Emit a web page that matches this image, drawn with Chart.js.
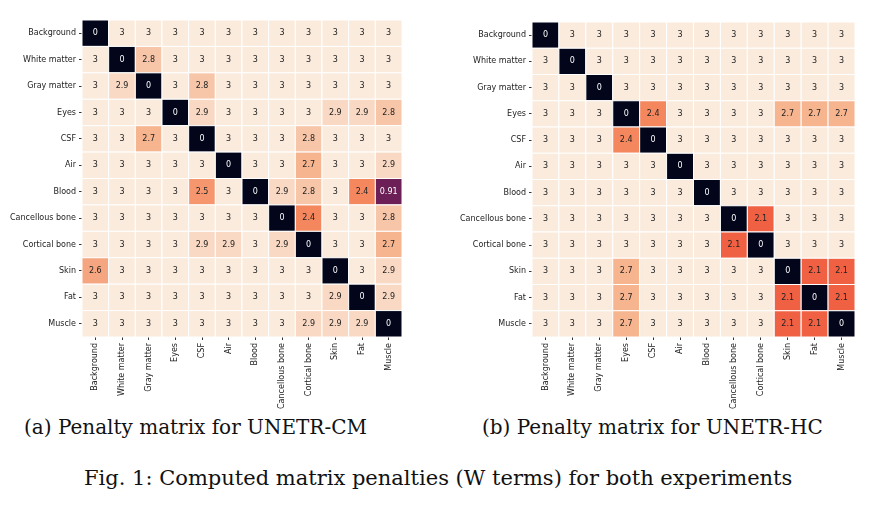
<!DOCTYPE html>
<html>
<head>
<meta charset="utf-8">
<script src="https://cdn.jsdelivr.net/npm/chart.js@4.4.0/dist/chart.umd.min.js"></script>
<style>
  body { margin: 0; background: #fff; width: 883px; height: 513px; position: relative; overflow: hidden; }
  .box { position: absolute; top: 0; width: 420px; height: 410px; }
  .cap { position: absolute; font-family: "DejaVu Serif", serif; font-size: 20px; color: #111; white-space: nowrap; }
</style>
</head>
<body>
<div class="box" style="left:0"><canvas id="chartCM"></canvas></div>
<div class="box" style="left:450px"><canvas id="chartHC"></canvas></div>
<div class="cap" style="left:24px; top:415px">(a) Penalty matrix for UNETR-CM</div>
<div class="cap" style="left:482px; top:415px">(b) Penalty matrix for UNETR-HC</div>
<div class="cap" style="left:84px; top:466px; font-size:21px">Fig. 1: Computed matrix penalties (W terms) for both experiments</div>
<script>
var classes = ["Background", "White matter", "Gray matter", "Eyes", "CSF", "Air", "Blood",
    "Cancellous bone", "Cortical bone", "Skin", "Fat", "Muscle"];

var penaltyCM = [
    [0, 3, 3, 3, 3, 3, 3, 3, 3, 3, 3, 3],
    [3, 0, 2.8, 3, 3, 3, 3, 3, 3, 3, 3, 3],
    [3, 2.9, 0, 3, 2.8, 3, 3, 3, 3, 3, 3, 3],
    [3, 3, 3, 0, 2.9, 3, 3, 3, 3, 2.9, 2.9, 2.8],
    [3, 3, 2.7, 3, 0, 3, 3, 3, 2.8, 3, 3, 3],
    [3, 3, 3, 3, 3, 0, 3, 3, 2.7, 3, 3, 2.9],
    [3, 3, 3, 3, 2.5, 3, 0, 2.9, 2.8, 3, 2.4, 0.91],
    [3, 3, 3, 3, 3, 3, 3, 0, 2.4, 3, 3, 2.8],
    [3, 3, 3, 3, 2.9, 2.9, 3, 2.9, 0, 3, 3, 2.7],
    [2.6, 3, 3, 3, 3, 3, 3, 3, 3, 0, 3, 2.9],
    [3, 3, 3, 3, 3, 3, 3, 3, 3, 2.9, 0, 2.9],
    [3, 3, 3, 3, 3, 3, 3, 3, 2.9, 2.9, 2.9, 0]
];

var penaltyHC = [
    [0, 3, 3, 3, 3, 3, 3, 3, 3, 3, 3, 3],
    [3, 0, 3, 3, 3, 3, 3, 3, 3, 3, 3, 3],
    [3, 3, 0, 3, 3, 3, 3, 3, 3, 3, 3, 3],
    [3, 3, 3, 0, 2.4, 3, 3, 3, 3, 2.7, 2.7, 2.7],
    [3, 3, 3, 2.4, 0, 3, 3, 3, 3, 3, 3, 3],
    [3, 3, 3, 3, 3, 0, 3, 3, 3, 3, 3, 3],
    [3, 3, 3, 3, 3, 3, 0, 3, 3, 3, 3, 3],
    [3, 3, 3, 3, 3, 3, 3, 0, 2.1, 3, 3, 3],
    [3, 3, 3, 3, 3, 3, 3, 2.1, 0, 3, 3, 3],
    [3, 3, 3, 2.7, 3, 3, 3, 3, 3, 0, 2.1, 2.1],
    [3, 3, 3, 2.7, 3, 3, 3, 3, 3, 2.1, 0, 2.1],
    [3, 3, 3, 2.7, 3, 3, 3, 3, 3, 2.1, 2.1, 0]
];

// rocket colormap stops
var rocket = [[3,5,26],[34,19,49],[69,28,71],[106,31,86],[146,28,91],[185,22,87],
    [225,51,66],[240,96,67],[244,135,94],[246,180,143],[250,235,221]];

function colorFor(v) {
    var t = Math.max(0, Math.min(1, v / 3)) * (rocket.length - 1);
    var i = Math.min(Math.floor(t), rocket.length - 2), f = t - i;
    var a = rocket[i], b = rocket[i + 1];
    return "rgb(" + [0, 1, 2].map(function (k) { return Math.round(a[k] + (b[k] - a[k]) * f); }).join(",") + ")";
}

var heatmapPlugin = {
    id: "heatmap",
    beforeDatasetsDraw: function (chart) {
        var ctx = chart.ctx, xs = chart.scales.x, ys = chart.scales.y;
        chart.data.datasets[0].data.forEach(function (p) {
            var x0 = xs.getPixelForValue(p.x - 0.5), x1 = xs.getPixelForValue(p.x + 0.5);
            var y0 = ys.getPixelForValue(p.y - 0.5), y1 = ys.getPixelForValue(p.y + 0.5);
            ctx.fillStyle = colorFor(p.v);
            ctx.fillRect(x0, y0, x1 - x0, y1 - y0);
            ctx.strokeStyle = "#fff";
            ctx.lineWidth = 1;
            ctx.strokeRect(x0, y0, x1 - x0, y1 - y0);
            ctx.fillStyle = p.v < 1.5 ? "#fff" : "#222";
            ctx.font = "8px 'DejaVu Sans'";
            ctx.textAlign = "center";
            ctx.textBaseline = "middle";
            ctx.fillText(String(p.v), (x0 + x1) / 2, (y0 + y1) / 2);
        });
    }
};

function makeHeatmap(id, matrix, pad) {
    var points = [];
    matrix.forEach(function (row, r) {
        row.forEach(function (v, c) { points.push({ x: c, y: r, v: v }); });
    });
    var tickOpts = {
        stepSize: 1, autoSkip: false, color: "#222",
        font: { family: "DejaVu Sans", size: 8 },
        callback: function (v) { return classes[v]; }
    };
    var gridOpts = { drawOnChartArea: false, drawTicks: true, tickLength: 3, color: "#333" };
    new Chart(document.getElementById(id), {
        type: "scatter",
        data: { datasets: [{ data: points, pointRadius: 0 }] },
        plugins: [heatmapPlugin],
        options: {
            responsive: true, maintainAspectRatio: false, animation: false,
            layout: { padding: pad },
            plugins: { legend: { display: false }, tooltip: { enabled: false } },
            scales: {
                x: {
                    type: "linear", min: -0.5, max: 11.5, grid: gridOpts, border: { display: false },
                    ticks: Object.assign({}, tickOpts, { maxRotation: 90, minRotation: 90 }),
                    afterBuildTicks: function (s) { s.ticks = classes.map(function (c, i) { return { value: i }; }); },
                    afterFit: function (s) { s.height = 73; }
                },
                y: {
                    type: "linear", min: -0.5, max: 11.5, reverse: true, grid: gridOpts, border: { display: false },
                    ticks: tickOpts,
                    afterBuildTicks: function (s) { s.ticks = classes.map(function (c, i) { return { value: i }; }); },
                    afterFit: function (s) { s.width = 80; }
                }
            }
        }
    });
}

makeHeatmap("chartCM", penaltyCM, { left: 2, right: 18, top: 20, bottom: 0 });
makeHeatmap("chartHC", penaltyHC, { left: 2, right: 15, top: 22, bottom: 0 });
</script>
</body>
</html>
